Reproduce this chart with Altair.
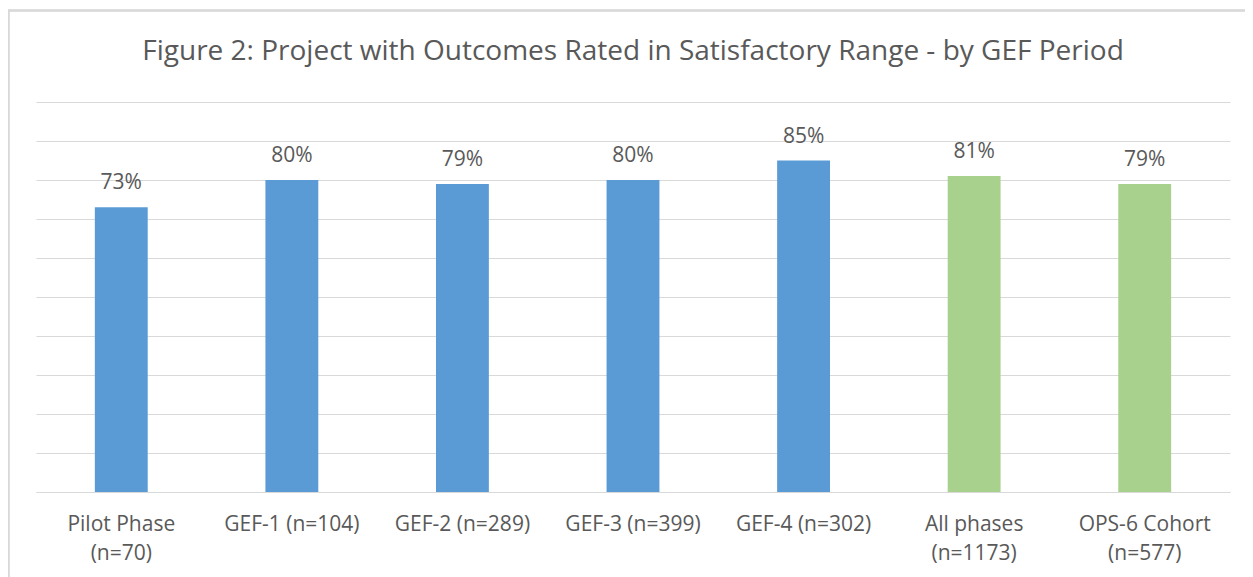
import altair as alt
import pandas as pd

categories = ["Pilot Phase\n(n=70)", "GEF-1 (n=104)", "GEF-2 (n=289)", "GEF-3 (n=399)",
              "GEF-4 (n=302)", "All phases\n(n=1173)", "OPS-6 Cohort\n(n=577)"]
values = [0.73, 0.80, 0.79, 0.80, 0.85, 0.81, 0.79]
groups = ["period", "period", "period", "period", "period", "aggregate", "aggregate"]
grid_values = [0, 0.1, 0.2, 0.3, 0.4, 0.5, 0.6, 0.7, 0.8, 0.9, 1.0]

df = pd.DataFrame({"cat": categories, "val": values, "grp": groups})

TEXT = "#595959"
FONT = "Open Sans"

x = alt.X("cat:N", sort=categories, title=None,
          scale=alt.Scale(paddingInner=0.69, paddingOuter=0.345),
          axis=alt.Axis(labelAngle=0, labelExpr="split(datum.value, '\\n')",
                        labelFontSize=21, labelColor=TEXT, labelFont=FONT,
                        labelPadding=38, labelLineHeight=29, labelBaseline="alphabetic",
                        domainColor="#d9d9d9", ticks=False, grid=False))
y = alt.Y("val:Q", title=None,
          scale=alt.Scale(domain=[0, 1], nice=False),
          axis=alt.Axis(values=grid_values, labels=False, ticks=False,
                        domain=False, gridColor="#d9d9d9", gridWidth=1))

bars = alt.Chart(df).mark_bar().encode(
    x=x, y=y,
    color=alt.Color("grp:N", scale=alt.Scale(domain=["period", "aggregate"],
                                              range=["#5B9BD5", "#A9D18E"]), legend=None),
)
labels = alt.Chart(df).mark_text(dy=-18, baseline="alphabetic", fontSize=21,
                                 font=FONT, color=TEXT).encode(
    x=x, y=y,
    text=alt.Text("val:Q", format=".0%"),
)
frame = alt.Chart(df).mark_rect(fill=None, stroke="#d9d9d9", strokeWidth=1.5).encode(
    x=alt.value(-27.5), x2=alt.value(1240), y=alt.value(-91.5), y2=alt.value(600))

chart = alt.layer(frame, bars, labels).properties(
    width=1194, height=390,
    title=alt.TitleParams("Figure 2: Project with Outcomes Rated in Satisfactory Range - by GEF Period",
                          fontSize=28, font=FONT, fontWeight="normal", color=TEXT,
                          anchor="middle", offset=-84, frame="group", baseline="bottom"),
    autosize=alt.AutoSizeParams(type="none"),
    padding={"left": 28, "top": 94, "right": 15, "bottom": 85},
).configure_view(stroke=None).configure_axis(labelFont=FONT)

chart.save("out.html", embed_options={"renderer": "svg", "actions": False})
